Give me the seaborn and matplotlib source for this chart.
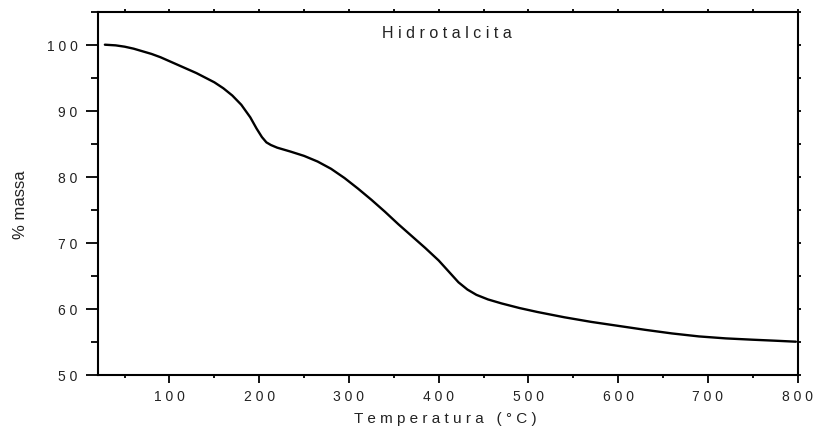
import matplotlib
matplotlib.use("Agg")
import matplotlib.pyplot as plt
import seaborn as sns
import pandas as pd
from matplotlib.ticker import MultipleLocator, FuncFormatter

# Data
temperature = [28, 40, 50, 60, 70, 80, 90, 100, 110, 120, 130, 140, 150, 160,
               170, 180, 190, 197, 203, 208, 213, 220, 235, 250, 265, 280, 295,
               310, 325, 340, 355, 370, 385, 400, 412, 422, 432, 442, 455, 470,
               490, 510, 540, 570, 600, 630, 660, 690, 720, 750, 775, 798]
mass = [100.0, 99.9, 99.7, 99.4, 99.0, 98.6, 98.1, 97.5, 96.9, 96.3, 95.7, 95.0,
        94.3, 93.4, 92.3, 90.9, 89.0, 87.3, 86.0, 85.2, 84.8, 84.4, 83.8, 83.15,
        82.3, 81.2, 79.8, 78.2, 76.5, 74.7, 72.8, 71.0, 69.2, 67.3, 65.5, 64.0,
        62.9, 62.1, 61.4, 60.8, 60.1, 59.5, 58.7, 58.0, 57.4, 56.8, 56.25, 55.8,
        55.5, 55.3, 55.15, 55.0]
title_text = "Hidrotalcita"
x_label = "Temperatura (°C)"
y_label = "% massa"

df = pd.DataFrame({"T": temperature, "m": mass})

sns.set_style("ticks")
plt.rcParams["font.family"] = ["Liberation Sans", "DejaVu Sans"]

fig = plt.figure(figsize=(8.13, 4.31), dpi=100)
ax = fig.add_axes([97.7 / 813, 1 - 375.7 / 431, 700 / 813, 363 / 431])

sns.lineplot(data=df, x="T", y="m", ax=ax, color="black", linewidth=1.7)

ax.set_xlim(20, 800)
ax.set_ylim(50, 105)
ax.xaxis.set_major_locator(MultipleLocator(100))
ax.xaxis.set_minor_locator(MultipleLocator(50))
ax.yaxis.set_major_locator(MultipleLocator(10))
ax.yaxis.set_minor_locator(MultipleLocator(5))

def spaced(s):
    return " ".join(list(s))

fmt = FuncFormatter(lambda v, p: spaced(f"{int(round(v))}"))
ax.xaxis.set_major_formatter(fmt)
ax.yaxis.set_major_formatter(fmt)

for sp in ax.spines.values():
    sp.set_visible(True)
    sp.set_linewidth(1.5)
    sp.set_color("black")

ax.tick_params(axis="both", which="both", direction="out", color="black",
               width=1.3, labelsize=10, labelcolor="#222222",
               top=True, right=True)
ax.tick_params(axis="x", which="major", length=6, pad=4)
ax.tick_params(axis="x", which="minor", length=2.5)
ax.tick_params(axis="y", which="major", length=8.5, pad=6)
ax.tick_params(axis="y", which="minor", length=5)
# Top/right ticks are tiny in the reference
for t in ax.xaxis.get_major_ticks() + ax.xaxis.get_minor_ticks():
    t.tick2line.set_markersize(2)
for t in ax.yaxis.get_major_ticks() + ax.yaxis.get_minor_ticks():
    t.tick2line.set_markersize(2)

ax.set_xlabel(spaced(x_label), fontsize=11, color="#222222")
ax.set_ylabel(y_label, fontsize=12, color="#222222")
ax.xaxis.set_label_coords(0.496, -0.10)
ax.yaxis.set_label_coords(-0.1, 0.47)

ax.text(0.499, 0.9295, spaced(title_text), transform=ax.transAxes,
        ha="center", va="baseline", fontsize=11.5, color="#222222")

fig.savefig("out.png", dpi=100)
